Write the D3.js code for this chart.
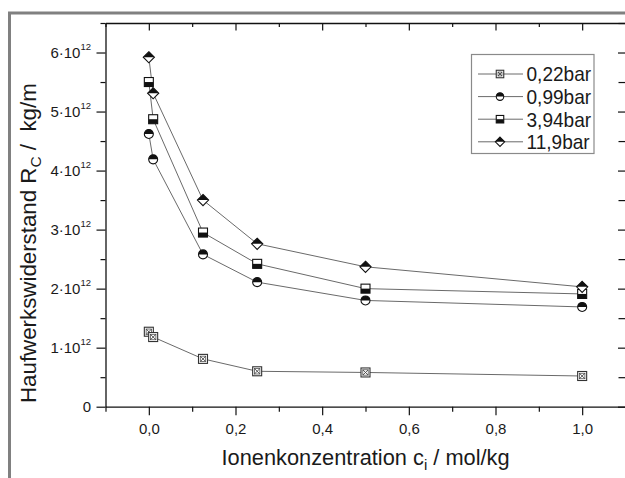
<!DOCTYPE html>
<html>
<head>
<meta charset="utf-8">
<script src="https://cdn.jsdelivr.net/npm/d3@7"></script>
<style>
  html, body { margin: 0; padding: 0; background: #fff; }
  svg { display: block; }
  text { font-family: "Liberation Sans", Arial, Helvetica, sans-serif; fill: #1a1a1a; }
</style>
</head>
<body>
<svg id="chart" width="625" height="478"></svg>
<script>
// ---- data ----
const concentrations = [0, 0.01, 0.125, 0.25, 0.5, 1.0];
const seriesNames = ["0,22bar", "0,99bar", "3,94bar", "11,9bar"];
const r022 = [1.27e12, 1.18e12, 0.81e12, 0.60e12, 0.58e12, 0.52e12];
const r099 = [4.62e12, 4.19e12, 2.58e12, 2.11e12, 1.80e12, 1.69e12];
const r394 = [5.50e12, 4.87e12, 2.95e12, 2.42e12, 2.00e12, 1.91e12];
const r119 = [5.92e12, 5.31e12, 3.50e12, 2.76e12, 2.37e12, 2.03e12];
const xTickValues = [0, 0.2, 0.4, 0.6, 0.8, 1.0];
const xTickLabels = ["0,0", "0,2", "0,4", "0,6", "0,8", "1,0"];
const yTickValues = [0, 1e12, 2e12, 3e12, 4e12, 5e12, 6e12];
const yTickMantissa = ["0", "1", "2", "3", "4", "5", "6"];

const series = [
  { name: seriesNames[0], values: r022, marker: "xsquare" },
  { name: seriesNames[1], values: r099, marker: "halfcircle" },
  { name: seriesNames[2], values: r394, marker: "halfsquare" },
  { name: seriesNames[3], values: r119, marker: "halfdiamond" }
];

const svg = d3.select("#chart");

// outer gray frame
svg.append("path")
  .attr("d", "M9.5,478 L9.5,13 L625,13")
  .attr("fill", "none").attr("stroke", "#808080").attr("stroke-width", 3);

const x = d3.scaleLinear().domain([-0.1, 1.1]).range([105.5, 625.5]);
const y = d3.scaleLinear().domain([0, 6.5e12]).range([406.7, 23]);

const axisColor = "#111";
const minorX = d3.range(-0.1, 1.11, 0.1).map(v => Math.round(v * 10) / 10).filter(v => Math.round(v * 10) % 2 !== 0);
const minorY = d3.range(0.5e12, 6.6e12, 1e12);

function styleAxis(g) {
  g.select(".domain").attr("stroke", axisColor).attr("stroke-width", 1.3);
  g.selectAll(".tick line").attr("stroke", axisColor).attr("stroke-width", 1.2);
}

// bottom axis (major)
const gxB = svg.append("g").attr("transform", `translate(0,${y(0)})`)
  .call(d3.axisBottom(x).tickValues(xTickValues).tickSize(8.5).tickSizeOuter(0)
    .tickFormat((d, i) => xTickLabels[i]));
styleAxis(gxB);
gxB.selectAll(".tick text").attr("font-size", 15).attr("dy", 0).attr("y", 27)
  .style("font-family", '"Liberation Sans", Arial, sans-serif').attr("fill", "#1a1a1a");
svg.append("g").attr("transform", `translate(0,${y(0)})`)
  .call(d3.axisBottom(x).tickValues(minorX).tickSize(5).tickSizeOuter(0).tickFormat(""))
  .call(g => { g.select(".domain").remove(); g.selectAll(".tick line").attr("stroke", axisColor).attr("stroke-width", 1.2); });

// top axis (inward ticks)
const gxT = svg.append("g").attr("transform", `translate(0,${y(6.5e12)})`)
  .call(d3.axisTop(x).tickValues(xTickValues).tickSize(-7.5).tickSizeOuter(0).tickFormat(""));
styleAxis(gxT);
svg.append("g").attr("transform", `translate(0,${y(6.5e12)})`)
  .call(d3.axisTop(x).tickValues(minorX).tickSize(-4).tickSizeOuter(0).tickFormat(""))
  .call(g => { g.select(".domain").remove(); g.selectAll(".tick line").attr("stroke", axisColor).attr("stroke-width", 1.2); });

// left axis
const gyL = svg.append("g").attr("transform", `translate(${x(-0.1)},0)`)
  .call(d3.axisLeft(y).tickValues(yTickValues).tickSize(9).tickSizeOuter(0).tickFormat(""));
styleAxis(gyL);
svg.append("g").attr("transform", `translate(${x(-0.1)},0)`)
  .call(d3.axisLeft(y).tickValues(minorY).tickSize(5).tickSizeOuter(0).tickFormat(""))
  .call(g => { g.select(".domain").remove(); g.selectAll(".tick line").attr("stroke", axisColor).attr("stroke-width", 1.2); });

// right axis (inward ticks)
const gyR = svg.append("g").attr("transform", `translate(${x(1.1)},0)`)
  .call(d3.axisRight(y).tickValues(yTickValues).tickSize(-7.5).tickSizeOuter(0).tickFormat(""));
styleAxis(gyR);
svg.append("g").attr("transform", `translate(${x(1.1)},0)`)
  .call(d3.axisRight(y).tickValues(minorY).tickSize(-7).tickSizeOuter(0).tickFormat(""))
  .call(g => { g.select(".domain").remove(); g.selectAll(".tick line").attr("stroke", axisColor).attr("stroke-width", 1.2); });

// y tick labels with superscripts
yTickValues.forEach((v, i) => {
  const t = svg.append("text")
    .attr("x", 91).attr("y", y(v) + 5)
    .attr("text-anchor", "end").attr("font-size", 15);
  if (v === 0) {
    t.text(yTickMantissa[i]);
  } else {
    t.append("tspan").text(yTickMantissa[i] + "\u00B710");
    t.append("tspan").attr("font-size", 9.5).attr("dy", -7.5).text("12");
  }
});

// axis titles
const xt = svg.append("text").attr("x", 221.5).attr("y", 465).attr("font-size", 21.8);
xt.append("tspan").text("Ionenkonzentration c");
xt.append("tspan").attr("font-size", 15).attr("dy", 5).text("i");
xt.append("tspan").attr("dy", -5).text(" / mol/kg");

const yt = svg.append("text").attr("transform", "translate(36,403) rotate(-90)")
  .attr("text-anchor", "start").attr("font-size", 22.3);
yt.append("tspan").text("Haufwerkswiderstand R");
yt.append("tspan").attr("font-size", 15.5).attr("dy", 5).text("C");
yt.append("tspan").attr("dy", -5).text("\u00A0/\u00A0\u00A0kg/m");

// markers
function drawMarker(g, type, s) {
  const stroke = "#111";
  if (type === "xsquare") {
    const h = s / 2;
    g.append("rect").attr("x", -h).attr("y", -h).attr("width", s).attr("height", s)
      .attr("fill", "#fff").attr("stroke", "#333").attr("stroke-width", 1.1);
    g.append("rect").attr("x", -h + 1.8).attr("y", -h + 1.8).attr("width", s - 3.6).attr("height", s - 3.6)
      .attr("fill", "none").attr("stroke", "#555").attr("stroke-width", 0.8);
    g.append("path").attr("d", `M${-h + 1.8},${-h + 1.8}L${h - 1.8},${h - 1.8}M${h - 1.8},${-h + 1.8}L${-h + 1.8},${h - 1.8}`)
      .attr("stroke", "#444").attr("stroke-width", 0.9);
  } else if (type === "halfcircle") {
    const r = s / 2;
    g.append("circle").attr("r", r).attr("fill", "#fff").attr("stroke", stroke).attr("stroke-width", 1.1);
    g.append("path").attr("d", `M${-r},0A${r},${r} 0 0 1 ${r},0Z`).attr("fill", stroke);
  } else if (type === "halfsquare") {
    const h = s / 2;
    g.append("rect").attr("x", -h).attr("y", -h).attr("width", s).attr("height", s)
      .attr("fill", "#fff").attr("stroke", stroke).attr("stroke-width", 1.1);
    g.append("rect").attr("x", -h).attr("y", 0).attr("width", s).attr("height", h).attr("fill", stroke);
  } else if (type === "halfdiamond") {
    const w = s * 0.62, hh = s * 0.62;
    g.append("path").attr("d", `M0,${-hh}L${w},0L0,${hh}L${-w},0Z`)
      .attr("fill", "#fff").attr("stroke", stroke).attr("stroke-width", 1.1);
    g.append("path").attr("d", `M0,${-hh}L${w},0L${-w},0Z`).attr("fill", stroke);
  }
}

const line = d3.line().x(d => x(d[0])).y(d => y(d[1]));

series.forEach(s => {
  const pts = concentrations.map((c, i) => [c, s.values[i]]);
  svg.append("path").datum(pts).attr("d", line)
    .attr("fill", "none").attr("stroke", "#6a6a6a").attr("stroke-width", 1);
});
series.forEach(s => {
  concentrations.forEach((c, i) => {
    const g = svg.append("g").attr("transform", `translate(${x(c)},${y(s.values[i])})`);
    drawMarker(g, s.marker, 9);
  });
});

// legend
const lg = svg.append("g");
lg.append("rect").attr("x", 471.5).attr("y", 54.5).attr("width", 122.5).attr("height", 99)
  .attr("fill", "#fff").attr("stroke", "#8a8a8a").attr("stroke-width", 1.2);
series.forEach((s, i) => {
  const cy = 74 + i * 22.6;
  lg.append("line").attr("x1", 478).attr("x2", 523).attr("y1", cy).attr("y2", cy)
    .attr("stroke", "#6a6a6a").attr("stroke-width", 1);
  const g = lg.append("g").attr("transform", `translate(500,${cy})`);
  drawMarker(g, s.marker, 7.5);
  lg.append("text").attr("x", 526.5).attr("y", cy + 7.5)
    .attr("font-size", 20.5)
    .attr("transform", `translate(526.5,0) scale(0.93,1) translate(-526.5,0)`)
    .text(s.name);
});
</script>
</body>
</html>
